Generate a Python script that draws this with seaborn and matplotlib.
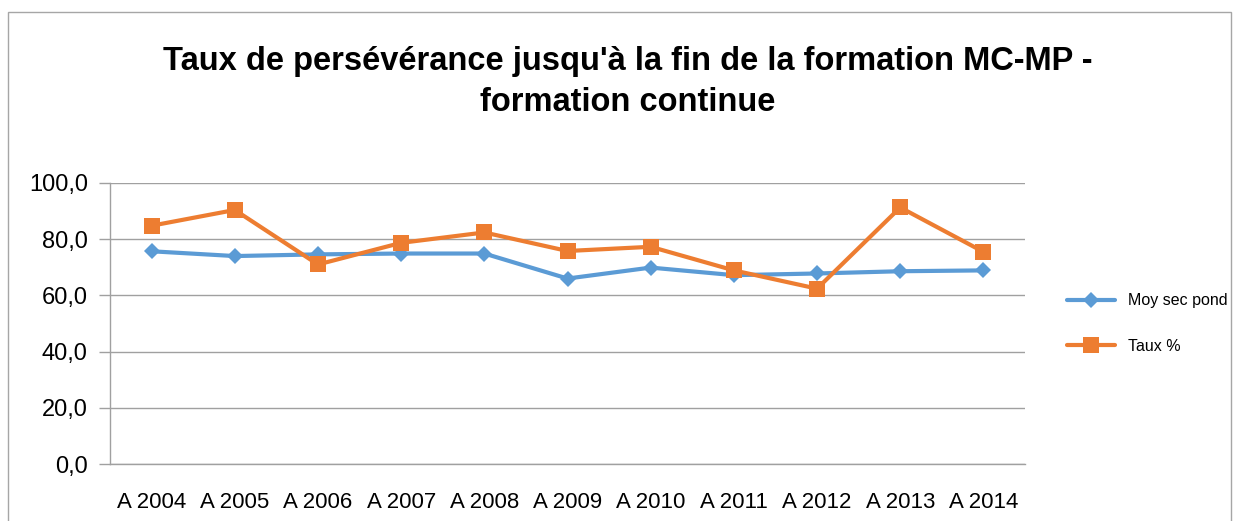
import matplotlib
matplotlib.use("Agg")
import matplotlib.pyplot as plt
import seaborn as sns
import pandas as pd
from matplotlib.patches import Rectangle

years = ["A 2004", "A 2005", "A 2006", "A 2007", "A 2008", "A 2009",
         "A 2010", "A 2011", "A 2012", "A 2013", "A 2014"]
moy_sec_pond = [75.7, 74.0, 74.6, 74.9, 74.9, 66.0, 69.9, 67.2, 67.8, 68.6, 68.9]
taux = [84.8, 90.4, 71.0, 78.7, 82.4, 75.8, 77.3, 68.9, 62.4, 91.3, 75.5]

sns.set_style("white")
plt.rcParams['font.family'] = ['Liberation Sans', 'DejaVu Sans']
plt.rcParams['text.color'] = 'black'
plt.rcParams['xtick.labelcolor'] = 'black'
plt.rcParams['ytick.labelcolor'] = 'black'

df = pd.DataFrame({"x": range(len(years)), "moy": moy_sec_pond, "taux": taux})

fig = plt.figure(figsize=(12.39, 5.21), dpi=100)
ax = fig.add_axes([110 / 1239, 57 / 521, 915 / 1239, 281 / 521])

# outer chart border
fig.patches.append(Rectangle((8 / 1239, -0.01), 1223 / 1239, 509 / 521 + 0.01,
                             transform=fig.transFigure, fill=False,
                             edgecolor="#A6A6A6", linewidth=1))

sns.lineplot(data=df, x="x", y="moy", ax=ax, color="#5B9BD5", linewidth=3,
             marker="D", markersize=8, markeredgewidth=0, label="Moy sec pond")
sns.lineplot(data=df, x="x", y="taux", ax=ax, color="#ED7D31", linewidth=3,
             marker="s", markersize=11, markeredgewidth=0, label="Taux %")

ax.set_xlim(-0.5, len(years) - 0.5)
ax.set_ylim(0, 100)
ax.set_yticks(range(0, 101, 20))
ax.set_yticklabels([f"{v},0" for v in range(0, 101, 20)], fontsize=17)
ax.yaxis.grid(True, color="#A0A0A0", linewidth=1)
ax.set_axisbelow(True)

# categories labelled at centre, tick marks on boundaries
ax.set_xticks(range(len(years)))
ax.set_xticklabels(years, fontsize=16)
ax.tick_params(axis="x", length=0, pad=20)
ax.set_xticks([i - 0.5 for i in range(len(years) + 1)], minor=True)
ax.tick_params(axis="x", which="minor", length=8, color="#A0A0A0", width=1)
ax.tick_params(axis="y", length=8, color="#A0A0A0", width=1, left=True, pad=8)

for side in ["top", "right"]:
    ax.spines[side].set_visible(False)
for side in ["left", "bottom"]:
    ax.spines[side].set_color("#A0A0A0")
    ax.spines[side].set_linewidth(1)

ax.set_xlabel("")
ax.set_ylabel("")

ax.legend(loc="center left", bbox_to_anchor=(1.03, 0.5), frameon=False,
          fontsize=11.5, labelspacing=1.9, handlelength=3)

fig.text(628 / 1239, 1 - 82 / 521,
         "Taux de persévérance jusqu'à la fin de la formation MC-MP -\nformation continue",
         ha="center", va="center", fontsize=23.5, fontweight="bold", linespacing=1.4)

fig.savefig("out.png", dpi=100)
